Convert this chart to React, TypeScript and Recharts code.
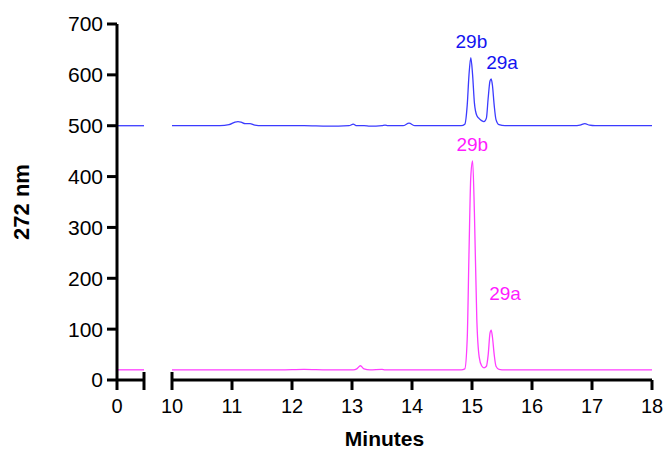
import React from 'react';
import { LineChart, Line, XAxis, YAxis, ReferenceLine, ReferenceDot } from 'recharts';

const FONT = '"Liberation Sans", Arial, Helvetica, sans-serif';
const BLUE = '#3b3bff';
const PINK = '#ff3dff';

// short piece before the axis break (minutes)
const leadTimes = [0, 0.45];
const leadBlue = [500, 500];
const leadPink = [20, 20];

// main run, 10 - 18 minutes
const times = [
  10.0, 10.5, 10.8, 10.95, 11.05, 11.1, 11.15, 11.22, 11.3, 11.38, 11.5, 11.8, 12.2, 12.6, 12.95,
  13.02, 13.08, 13.14, 13.2, 13.3, 13.5, 13.55, 13.6, 13.85, 13.95, 14.05, 14.15, 14.4, 14.7,
  14.82, 14.88, 14.92, 14.95, 14.98, 15.01, 15.04, 15.08, 15.12, 15.16, 15.2, 15.24, 15.27, 15.3,
  15.32, 15.34, 15.37, 15.4, 15.45, 15.55, 15.8, 16.2, 16.7, 16.8, 16.88, 16.96, 17.05, 17.5, 18.0,
];
const blue = [
  500, 500, 500, 502, 507, 508, 507, 504, 504, 501, 500, 500, 500, 499, 500,
  503, 500, 500, 500, 499, 500, 501, 500, 500, 505, 500, 500, 500, 500,
  500, 503, 540, 600, 634, 600, 545, 520, 514, 510, 508, 515, 555, 588,
  592, 580, 540, 512, 502, 500, 500, 500, 500, 501, 504, 501, 500, 500, 500,
];
const pink = [
  20, 20, 20, 20, 20, 20, 20, 20, 20, 20, 20, 20, 21, 20, 20,
  20, 22, 28, 22, 20, 21, 20, 20, 20, 20, 20, 20, 20, 20,
  20, 22, 80, 250, 400, 431, 330, 120, 45, 28, 24, 27, 50, 92,
  98, 85, 50, 27, 21, 20, 20, 20, 20, 20, 20, 20, 20, 20, 20,
];

const yTicks = [0, 100, 200, 300, 400, 500, 600, 700];
const leadTicks = [0, 0.45];
const mainTicks = [10, 11, 12, 13, 14, 15, 16, 17, 18];

// peak annotations
const labelText = ['29b', '29a', '29b', '29a'];
const labelTimes = [14.99, 15.5, 15.005, 15.55];
const labelValues = [634, 592, 431, 138];
const labelColors = ['#1414f0', '#1414f0', '#ff1aff', '#ff1aff'];

const leadData = leadTimes.map((t, i) => ({ t, blue: leadBlue[i], pink: leadPink[i] }));
const mainData = times.map((t, i) => ({ t, blue: blue[i], pink: pink[i] }));

const XTick = (props: any) => {
  const { x, payload, lift = 0 } = props;
  const y = props.y - lift;
  const v = payload.value;
  const cap = v === 0.45 || v === 10;
  return (
    <g>
      <line x1={x} x2={x} y1={cap ? y - 8 : y} y2={y + 10} stroke="#000" strokeWidth={3} />
      {v !== 0.45 && (
        <text x={x} y={y + 33} textAnchor="middle" fontSize={20} fill="#000" fontFamily={FONT}>
          {v}
        </text>
      )}
    </g>
  );
};

const YTitle = (props: any) => {
  const { viewBox } = props;
  const cy = viewBox.y + viewBox.height / 2;
  return (
    <text x={29} y={cy} transform={`rotate(-90 29 ${cy})`} textAnchor="middle" fontSize={22}
      fontWeight="bold" fill="#000" fontFamily={FONT}>
      272 nm
    </text>
  );
};

export default function App() {
  return (
    <div style={{ position: 'absolute', left: 0, top: 0, background: '#fff' }}>
      <LineChart width={670} height={455} margin={{ top: 24, right: 18, bottom: 73, left: 0 }}>
        <XAxis xAxisId="a" type="number" dataKey="t" domain={[0, 0.45]} ticks={leadTicks} interval={0}
          padding={{ left: 0, right: 508 }} height={1} axisLine={false} tickLine={false}
          tickSize={0} tickMargin={0} tick={<XTick lift={0} />} />
        <XAxis xAxisId="b" type="number" dataKey="t" domain={[10, 18]} ticks={mainTicks} interval={0}
          padding={{ left: 55, right: 0 }} height={1} axisLine={false} tickLine={false}
          tickSize={0} tickMargin={0} tick={<XTick lift={1} />}
          label={{ value: 'Minutes', position: 'bottom', offset: 49, fontSize: 21, fontWeight: 'bold', fill: '#000', fontFamily: FONT }} />
        <YAxis type="number" domain={[0, 700]} ticks={yTicks} interval={0} width={117}
          axisLine={{ stroke: '#000', strokeWidth: 3 }} tickLine={{ stroke: '#000', strokeWidth: 3 }}
          tickSize={10} tickMargin={4} tick={{ fontSize: 21, fill: '#000', fontFamily: FONT }}
          label={<YTitle />} />
        <ReferenceLine xAxisId="a" segment={[{ x: 0, y: 0 }, { x: 0.45, y: 0 }]} stroke="#000"
          strokeWidth={3} ifOverflow="visible" />
        <ReferenceLine xAxisId="b" segment={[{ x: 10, y: 0 }, { x: 18, y: 0 }]} stroke="#000"
          strokeWidth={3} ifOverflow="visible" />
        <Line xAxisId="a" data={leadData} dataKey="blue" stroke={BLUE} strokeWidth={1.3} dot={false}
          isAnimationActive={false} type="linear" />
        <Line xAxisId="a" data={leadData} dataKey="pink" stroke={PINK} strokeWidth={1.3} dot={false}
          isAnimationActive={false} type="linear" />
        <Line xAxisId="b" data={mainData} dataKey="blue" stroke={BLUE} strokeWidth={1.3} dot={false}
          isAnimationActive={false} type="monotone" />
        <Line xAxisId="b" data={mainData} dataKey="pink" stroke={PINK} strokeWidth={1.3} dot={false}
          isAnimationActive={false} type="monotone" />
        {labelText.map((txt, i) => (
          <ReferenceDot key={i} xAxisId="b" x={labelTimes[i]} y={labelValues[i]} r={0} stroke="none"
            fill="none" ifOverflow="visible"
            label={{ value: txt, position: 'top', offset: 10, fontSize: 19, fill: labelColors[i], fontFamily: FONT }} />
        ))}
      </LineChart>
    </div>
  );
}
